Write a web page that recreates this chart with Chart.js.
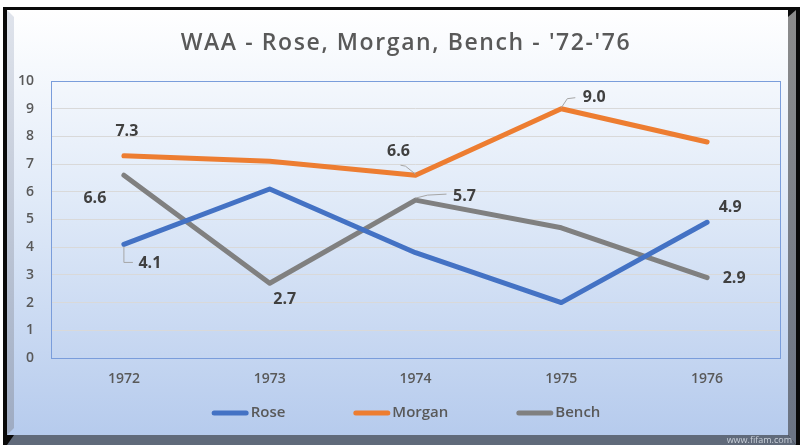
<!DOCTYPE html>
<html>
<head>
<meta charset="utf-8">
<script src="https://cdn.jsdelivr.net/npm/chart.js"></script>
<style>
  html, body { margin: 0; padding: 0; background: #ffffff; }
  #wrap { width: 800px; height: 445px; }
</style>
</head>
<body>
<div id="wrap"><canvas id="c" width="800" height="445"></canvas></div>
<script>
// ---- data ----
const categories = ['1972', '1973', '1974', '1975', '1976'];
const rose   = [4.1, 6.1, 3.8, 2.0, 4.9];
const morgan = [7.3, 7.1, 6.6, 9.0, 7.8];
const bench  = [6.6, 2.7, 5.7, 4.7, 2.9];
const seriesNames = ['Rose', 'Morgan', 'Bench'];
const titleText = "WAA - Rose, Morgan, Bench - '72-'76";

// ---- styling ----
const FONT = "'Open Sans', 'Noto Sans', sans-serif";
const colors = ['#4472c4', '#ed7d31', '#808080'];

// which points carry a value label, and where (offsets in px from the point)
const labelSpecs = [
  { ds: 1, i: 0, dx: 3,   dy: -24 },
  { ds: 1, i: 2, dx: -17, dy: -24, leader: [[0, -1], [-10, -9], [-15, -10]] },
  { ds: 1, i: 3, dx: 33,  dy: -11, leader: [[0, -1], [6, -10], [14, -11]] },
  { ds: 2, i: 0, dx: -29, dy: 23 },
  { ds: 0, i: 0, dx: 26,  dy: 19, leader: [[0, 2], [0, 18], [9, 18]] },
  { ds: 2, i: 1, dx: 15,  dy: 16 },
  { ds: 2, i: 2, dx: 49,  dy: -4, leader: [[0, -2], [12, -5], [31, -6]] },
  { ds: 0, i: 4, dx: 23,  dy: -15 },
  { ds: 2, i: 4, dx: 27,  dy: 1 }
];

const framePlugin = {
  id: 'frame',
  beforeDraw(chart) {
    const ctx = chart.ctx;
    ctx.save();
    ctx.fillStyle = '#ffffff';
    ctx.fillRect(0, 0, 800, 445);
    ctx.fillStyle = '#0a0a0a';
    ctx.fillRect(3, 7, 797, 438);
    const g = ctx.createLinearGradient(0, 10, 0, 435);
    g.addColorStop(0, '#ffffff');
    g.addColorStop(0.45, '#e0eaf8');
    g.addColorStop(1, '#b6cbed');
    ctx.fillStyle = g;
    ctx.fillRect(7, 10, 781, 425);
    // left bevel
    const gl = ctx.createLinearGradient(0, 10, 0, 435);
    gl.addColorStop(0, '#e0e4ec');
    gl.addColorStop(1, '#9eabc2');
    ctx.fillStyle = gl;
    ctx.beginPath();
    ctx.moveTo(7, 10); ctx.lineTo(14, 17); ctx.lineTo(14, 428); ctx.lineTo(7, 435); ctx.closePath();
    ctx.fill();
    // right bar
    const gr = ctx.createLinearGradient(0, 10, 0, 435);
    gr.addColorStop(0, '#8c8c8c');
    gr.addColorStop(1, '#6b7484');
    ctx.fillStyle = gr;
    ctx.beginPath();
    ctx.moveTo(788, 17); ctx.lineTo(796, 10); ctx.lineTo(796, 445); ctx.lineTo(788, 435); ctx.closePath();
    ctx.fill();
    // bottom bar
    ctx.fillStyle = '#606a7a';
    ctx.beginPath();
    ctx.moveTo(7, 445); ctx.lineTo(14, 435); ctx.lineTo(788, 435); ctx.lineTo(796, 445); ctx.closePath();
    ctx.fill();
    // watermark
    ctx.fillStyle = '#c9d0da';
    ctx.font = "9px " + FONT;
    ctx.textAlign = 'right';
    ctx.textBaseline = 'middle';
    ctx.fillText('www.fifam.com', 792, 440);
    ctx.restore();
  },
  beforeDatasetsDraw(chart) {
    const a = chart.chartArea;
    const ctx = chart.ctx;
    ctx.save();
    ctx.strokeStyle = '#7a9ddb';
    ctx.lineWidth = 1;
    ctx.strokeRect(Math.round(a.left) + 0.5, Math.round(a.top) + 0.5, Math.round(a.right - a.left), Math.round(a.bottom - a.top));
    ctx.restore();
  }
};

const titlePlugin = {
  id: 'wideTitle',
  afterDraw(chart) {
    const ctx = chart.ctx;
    ctx.save();
    ctx.font = "600 23px " + FONT;
    if ('letterSpacing' in ctx) ctx.letterSpacing = '1.6px';
    ctx.fillStyle = '#595959';
    ctx.textAlign = 'center';
    ctx.textBaseline = 'alphabetic';
    ctx.fillText(titleText, 406, 50);
    ctx.restore();
  }
};

const labelPlugin = {
  id: 'valueLabels',
  afterDatasetsDraw(chart) {
    const ctx = chart.ctx;
    ctx.save();
    labelSpecs.forEach(s => {
      const el = chart.getDatasetMeta(s.ds).data[s.i];
      const v = chart.data.datasets[s.ds].data[s.i];
      const x = el.x, y = el.y;
      if (s.leader) {
        ctx.strokeStyle = '#a6a6a6';
        ctx.lineWidth = 1;
        ctx.beginPath();
        s.leader.forEach((p, k) => {
          if (k === 0) ctx.moveTo(x + p[0], y + p[1]); else ctx.lineTo(x + p[0], y + p[1]);
        });
        ctx.stroke();
      }
      ctx.fillStyle = '#404040';
      ctx.font = "bold 16px " + FONT;
      ctx.textAlign = 'center';
      ctx.textBaseline = 'middle';
      ctx.fillText(v.toFixed(1), x + s.dx, y + s.dy);
    });
    ctx.restore();
  }
};

const legendPlugin = {
  id: 'bottomLegend',
  afterDraw(chart) {
    const ctx = chart.ctx;
    ctx.save();
    ctx.font = "600 15px " + FONT;
    const lineW = 37, gap = 2, spacing = 68, y = 413;
    const widths = chart.data.datasets.map(d => lineW + gap + ctx.measureText(d.label).width);
    const total = widths.reduce((a, b) => a + b, 0) + spacing * (widths.length - 1);
    let x = 406 - total / 2;
    chart.data.datasets.forEach((d, k) => {
      ctx.strokeStyle = d.borderColor;
      ctx.lineWidth = 5;
      ctx.lineCap = 'round';
      ctx.beginPath();
      ctx.moveTo(x + 2.5, y);
      ctx.lineTo(x + lineW - 2.5, y);
      ctx.stroke();
      ctx.fillStyle = '#595959';
      ctx.textAlign = 'left';
      ctx.textBaseline = 'middle';
      ctx.fillText(d.label, x + lineW + gap, y);
      x += widths[k] + spacing;
    });
    ctx.restore();
  }
};

const seriesData = [rose, morgan, bench];
new Chart(document.getElementById('c'), {
  type: 'line',
  data: {
    labels: categories,
    datasets: seriesData.map((d, k) => ({
      label: seriesNames[k],
      data: d,
      borderColor: colors[k],
      backgroundColor: colors[k],
      borderWidth: 5,
      borderCapStyle: 'round',
      borderJoinStyle: 'round',
      pointRadius: 0,
      pointHoverRadius: 0,
      tension: 0,
      fill: false
    }))
  },
  options: {
    responsive: false,
    animation: false,
    events: [],
    layout: { padding: { top: 81, right: 20, bottom: 47, left: 11 } },
    plugins: {
      legend: { display: false },
      tooltip: { enabled: false },
      title: { display: false }
    },
    scales: {
      x: {
        offset: true,
        grid: { display: false, drawTicks: false },
        border: { display: false },
        ticks: { color: '#595959', font: { family: FONT, size: 14, weight: '600' }, padding: 13 },
        afterFit(s) { s.height = 40; }
      },
      y: {
        min: 0, max: 10,
        grid: { color: '#d9d9d9', drawTicks: false, lineWidth: 1 },
        border: { display: false },
        ticks: { stepSize: 1, color: '#595959', font: { family: FONT, size: 14, weight: '600' }, padding: 17 },
        afterFit(s) { s.width = 40; }
      }
    }
  },
  plugins: [framePlugin, labelPlugin, legendPlugin, titlePlugin]
});
</script>
</body>
</html>
